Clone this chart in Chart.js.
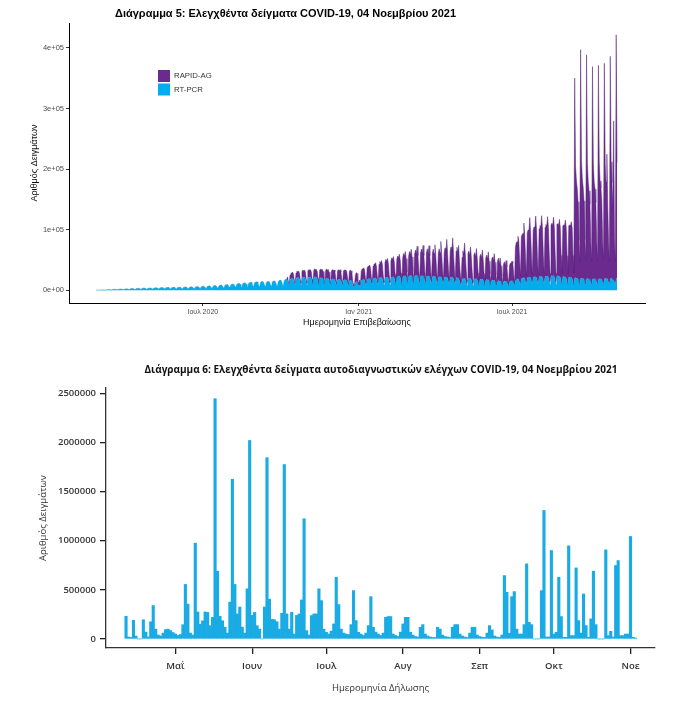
<!DOCTYPE html>
<html lang="el">
<head>
<meta charset="utf-8">
<title>Ελεγχθέντα δείγματα COVID-19</title>
<script src="https://cdn.jsdelivr.net/npm/chart.js@4.4.1/dist/chart.umd.min.js"></script>
<style>
  html, body { margin: 0; padding: 0; background: #fff; }
  #wrap { position: relative; width: 693px; height: 714px; }
  .box { position: absolute; left: 0; width: 693px; }
  #box1 { top: 0; height: 340px; }
  #box2 { top: 340px; height: 374px; }
</style>
</head>
<body>
<div id="wrap">
  <div class="box" id="box1"><canvas id="chart1"></canvas></div>
  <div class="box" id="box2"><canvas id="chart2"></canvas></div>
</div>
<script>
// ---- Διάγραμμα 5: daily values (thousands), one row per week, first day 2020-02-26
const chart1Start = '2020-02-26';
const chart1TickDates = ['2020-07-01', '2021-01-01', '2021-07-01'];
const chart1TickLabels = ['Ιουλ 2020', 'Ιαν 2021', 'Ιουλ 2021'];
const chart1YTicks = [0, 100000, 200000, 300000, 400000];

const rtpcrK = [
  0.2,0.3,0.3,0.2,0.1,0.4,0.5,
  0.5,0.6,0.7,0.5,0.3,0.8,0.9,
  1.0,1.1,1.2,0.8,0.5,1.2,1.4,
  1.5,1.6,1.5,1.0,0.7,1.5,1.7,
  1.8,1.9,2.0,1.4,1.0,1.8,2.1,
  2.2,2.4,2.3,1.6,1.2,2.2,2.6,
  2.8,2.9,2.7,1.9,1.3,2.5,3.0,
  3.1,3.3,3.0,2.0,1.5,2.8,3.4,
  3.5,3.6,3.2,2.2,1.6,3.0,3.6,
  3.4,3.8,3.5,2.4,1.7,3.2,3.9,
  4.0,4.2,3.8,2.6,1.8,3.5,4.3,
  4.4,4.6,4.0,2.8,2.0,3.8,4.5,
  4.6,4.8,4.2,2.9,2.0,4.0,4.7,
  4.8,5.0,4.4,3.0,2.1,4.2,4.9,
  5.0,5.2,4.6,3.1,2.2,4.4,5.1,
  5.2,5.4,4.8,3.2,2.3,4.6,5.4,
  5.5,5.8,5.0,3.4,2.4,5.0,5.8,
  6.0,6.2,5.4,3.6,2.6,5.4,6.3,
  6.5,6.8,5.8,3.9,2.8,5.8,6.8,
  7.0,7.3,6.2,4.2,3.0,6.3,7.5,
  7.8,8.0,6.8,4.6,3.2,7.0,8.2,
  8.5,8.8,7.5,5.0,3.5,7.8,9.0,
  9.2,9.6,8.2,5.5,3.8,8.6,9.8,
  10.0,10.5,9.0,6.0,4.2,9.5,10.8,
  11.0,11.5,9.8,6.5,4.6,10.3,11.8,
  12.0,12.5,10.5,7.0,5.0,11.2,12.6,
  12.8,13.4,11.2,7.5,5.2,12.0,13.5,
  13.6,14.0,11.8,7.8,5.5,12.5,14.2,
  14.0,14.4,12.0,8.0,5.6,12.8,14.5,
  14.2,14.8,12.4,8.2,5.8,13.2,15.0,
  15.0,15.5,13.0,8.6,6.0,14.0,16.0,
  16.5,17.0,14.5,9.5,6.5,15.5,17.5,
  18.0,18.5,16.0,10.5,7.2,17.0,19.0,
  19.5,20.0,17.5,11.5,8.0,18.5,20.5,
  20.5,21.0,18.5,12.0,8.5,19.5,21.5,
  21.0,21.5,19.0,12.5,8.8,20.0,22.0,
  21.5,22.0,19.5,12.8,9.0,20.5,22.5,
  21.0,21.5,19.0,12.5,8.8,19.5,21.0,
  20.0,20.5,18.0,12.0,8.5,18.5,20.0,
  19.0,19.5,17.0,11.5,8.0,17.5,19.0,
  18.0,18.5,16.5,11.0,7.8,16.5,18.0,
  17.5,18.0,16.0,10.5,7.5,16.0,17.5,
  17.0,17.5,15.5,10.0,7.0,15.0,16.5,
  16.0,15.0,8.0,6.0,5.0,12.0,14.0,
  14.0,9.0,7.0,9.0,6.0,15.0,17.0,
  17.5,18.0,16.0,10.5,7.5,17.0,18.5,
  19.0,19.5,17.0,11.0,8.0,18.0,19.5,
  20.0,20.5,18.0,11.5,8.2,19.0,20.5,
  20.5,21.0,18.5,12.0,8.5,19.5,21.0,
  21.0,21.5,19.0,12.5,8.8,20.0,21.5,
  22.0,22.5,20.0,13.0,9.0,21.0,22.5,
  23.0,23.5,21.0,13.5,9.5,22.0,23.5,
  23.5,24.0,21.5,14.0,9.8,22.5,24.0,
  24.0,24.5,22.0,14.0,9.8,23.0,24.5,
  24.0,24.5,22.0,14.0,9.8,23.0,24.0,
  23.5,24.0,21.5,13.5,9.5,22.5,23.5,
  23.0,23.5,21.0,13.5,9.5,22.0,23.0,
  22.5,23.0,20.5,13.0,9.0,21.5,22.5,
  22.0,22.5,20.0,13.0,9.0,21.0,22.0,
  21.5,22.0,19.5,12.5,8.8,20.5,21.5,
  21.0,21.5,19.0,12.0,8.5,20.0,21.0,
  20.0,19.0,15.0,10.0,7.0,16.0,19.0,
  19.5,20.0,17.5,11.5,8.0,18.5,19.5,
  19.0,19.5,17.0,11.0,7.8,18.0,19.0,
  18.5,19.0,16.5,10.5,7.5,17.5,18.5,
  18.0,18.5,16.0,10.5,7.2,17.0,18.0,
  17.0,17.5,15.0,10.0,7.0,16.0,17.0,
  16.0,16.5,14.0,9.5,6.5,15.0,16.0,
  15.0,15.5,13.5,9.0,6.2,14.0,15.0,
  14.5,15.0,13.0,8.5,6.0,13.5,14.5,
  15.0,16.0,14.5,9.5,6.5,15.5,17.0,
  18.0,19.0,17.0,11.5,8.0,18.5,20.0,
  20.0,21.0,19.0,12.5,8.5,20.0,21.5,
  21.0,22.0,20.0,13.0,9.0,21.0,22.5,
  21.5,22.5,20.5,13.5,9.2,21.5,23.0,
  22.0,23.0,21.0,13.5,9.5,22.0,23.5,
  22.5,23.5,21.0,14.0,9.5,23.0,24.5,
  23.0,24.5,21.5,14.0,9.8,23.5,24.0,
  22.5,23.0,21.0,13.5,9.5,22.0,23.0,
  21.5,22.0,20.0,13.0,9.0,21.0,22.0,
  20.5,21.0,19.0,12.5,8.5,20.0,21.0,
  19.5,20.0,18.0,12.0,8.2,19.0,20.0,
  19.0,19.5,17.5,11.5,8.0,18.5,19.5,
  18.5,19.0,17.0,11.0,7.8,18.0,19.0,
  18.5,19.0,17.0,11.0,7.8,18.0,19.0,
  18.5,19.0,17.0,11.0,7.8,18.5,19.5,
  19.0,19.5,17.5,11.5,8.0,19.0,20.0,
  19.5,15.0,17.5,11.5,8.0,19.5,20.5
];

const rapidK = [
  0,0,0,0,0,0,0,  0,0,0,0,0,0,0,  0,0,0,0,0,0,0,  0,0,0,0,0,0,0,
  0,0,0,0,0,0,0,  0,0,0,0,0,0,0,  0,0,0,0,0,0,0,  0,0,0,0,0,0,0,
  0,0,0,0,0,0,0,  0,0,0,0,0,0,0,  0,0,0,0,0,0,0,  0,0,0,0,0,0,0,
  0,0,0,0,0,0,0,  0,0,0,0,0,0,0,  0,0,0,0,0,0,0,  0,0,0,0,0,0,0,
  0,0,0,0,0,0,0,  0,0,0,0,0,0,0,  0,0,0,0,0,0,0,  0,0,0,0,0,0,0,
  0,0,0,0,0,0,0,  0,0,0,0,0,0,0,  0,0,0,0,0,0,0,  0,0,0,0,0,0,0,
  0,0,0,0,0,0,0,  0,0,0,0,0,0,0,  0,0,0,0,0,0,0,  0,0,0,0,0,0,0,
  0,0,0,0,0,0,0,  0,0,0,0,0,0,0,  0,0,0,0,0,0,0,  0,0,0,0,0,0,0,
  0,0,6,4,2,8,9,
  9,10,9,5,3,10,11,
  10,11,10,6,3,11,12,
  11,12,11,6,3,12,12,
  12,12,11,6,3,12,13,
  13,13,12,7,3,14,14,
  14,14,13,7,3,14,15,
  14,15,13,7,3,15,15,
  15,15,14,7,3,15,16,
  15,16,14,8,3,16,16,
  16,16,14,8,3,16,17,
  16,14,6,4,3,12,15,
  14,6,5,8,3,16,18,
  18,19,17,9,4,20,21,
  21,22,19,10,4,22,24,
  23,25,21,11,5,24,27,
  25,28,23,12,5,26,30,
  27,31,25,13,5,28,32,
  29,33,27,14,6,30,34,
  31,36,29,15,6,32,37,
  33,40,31,16,6,34,40,
  35,43,33,17,7,36,42,
  36,48,35,18,7,38,44,
  37,50,36,18,7,39,45,
  37,50,36,18,7,39,45,
  38,52,37,19,7,40,46,
  40,58,39,20,8,42,48,
  42,62,40,20,8,44,50,
  43,65,41,21,8,45,50,
  42,55,30,16,7,38,46,
  40,58,39,20,8,42,45,
  38,52,37,19,7,40,43,
  36,50,35,18,7,38,41,
  35,48,34,17,7,36,40,
  34,46,33,17,6,35,38,
  33,44,32,16,6,34,37,
  28,38,27,14,5,29,32,
  26,34,25,13,5,27,30,
  30,32,30,16,6,55,62,
  62,70,65,38,15,70,72,
  74,90,72,40,16,75,78,
  78,98,75,42,17,78,82,
  80,100,78,42,17,80,84,
  82,100,80,44,18,82,85,
  84,98,82,44,18,84,86,
  84,96,82,44,18,85,86,
  84,94,82,44,18,84,85,
  85,94,83,44,18,85,86,
  86,92,84,45,20,330,185,
  162,148,128,70,40,378,195,
  165,150,130,72,42,370,190,
  160,145,125,70,40,351,190,
  160,148,128,70,40,353,192,
  162,150,130,72,42,356,190,
  160,205,125,70,40,367,192,
  158,120,262,75,40,402,190
];

// ---- Διάγραμμα 6: daily self-tests (thousands), first day 2021-04-11
const chart2Start = '2021-04-11';
const chart2TickDates = ['2021-05-01', '2021-06-01', '2021-07-01', '2021-08-01', '2021-09-01', '2021-10-01', '2021-11-01'];
const chart2TickLabels = ['Μαΐ', 'Ιουν', 'Ιουλ', 'Αυγ', 'Σεπ', 'Οκτ', 'Νοε'];
const chart2YTicks = [0, 500000, 1000000, 1500000, 2000000, 2500000];

const selfTestsK = [
  230, 20, 15, 190, 30, 0, 0,
  195, 70, 20, 175, 340, 100, 40,
  30, 60, 95, 100, 85, 65, 50,
  35, 45, 145, 555, 355, 60, 40,
  975, 275, 150, 185, 275, 270, 135,
  220, 2445, 690, 230, 185, 120, 60,
  375, 1625, 555, 255, 325, 120, 60,
  510, 2020, 240, 270, 135, 100, 0,
  325, 1845, 405, 200, 195, 175, 100,
  262, 1775, 255, 100, 272, 50, 240,
  255, 397, 1223, 85, 40, 238, 255,
  255, 510, 390, 100, 68, 50, 80,
  153, 628, 350, 100, 60, 50, 45,
  146, 492, 187, 68, 50, 35, 60,
  136, 431, 119, 70, 50, 35, 60,
  220, 228, 228, 50, 35, 25, 70,
  153, 220, 220, 68, 40, 25, 20,
  119, 146, 50, 30, 20, 15, 15,
  119, 100, 40, 25, 20, 15, 119,
  146, 146, 50, 30, 20, 15, 60,
  119, 119, 40, 25, 18, 15, 60,
  136, 92, 30, 20, 15, 40, 645,
  475, 58, 431, 482, 100, 50, 50,
  146, 764, 170, 146, 0, 0, 0,
  492, 1308, 20, 20, 900, 50, 68,
  628, 228, 17, 17, 948, 34, 34,
  723, 187, 60, 458, 136, 17, 204,
  690, 146, 0, 0, 0, 907, 34,
  78, 20, 747, 798, 34, 34, 50,
  50, 1043, 17, 10
];

// days between two ISO dates
function daysBetween(from, to) {
    return Math.round((Date.parse(to) - Date.parse(from)) / 86400000);
}

// ggplot-like 4e+05 labels
function sciLabel(v) {
    if (v === 0) return '0e+00';
    const e = Math.floor(Math.log10(Math.abs(v)));
    return (v / Math.pow(10, e)) + 'e+' + String(e).padStart(2, '0');
}

function textPlugin(id, items) {
    return {
        id: id,
        afterDraw(chart) {
            const ctx = chart.ctx;
            ctx.save();
            items.forEach(t => {
                ctx.font = t.font;
                ctx.fillStyle = t.color;
                ctx.textAlign = t.align;
                ctx.textBaseline = 'middle';
                ctx.fillText(t.text, t.x, t.y);
            });
            ctx.restore();
        }
    };
}

// legend with filled squares, last dataset on top
function squareLegend(left, top, box, rowH, font) {
    return {
        id: 'squareLegend',
        afterDraw(chart) {
            const ctx = chart.ctx;
            const sets = chart.data.datasets.slice().reverse();
            ctx.save();
            sets.forEach((ds, i) => {
                const y = top + i * rowH;
                ctx.fillStyle = ds.backgroundColor;
                ctx.fillRect(left, y, box, box);
                ctx.fillStyle = '#333';
                ctx.font = font;
                ctx.textAlign = 'left';
                ctx.textBaseline = 'middle';
                ctx.fillText(ds.label, left + box + 4, y + box / 2);
            });
            ctx.restore();
        }
    };
}

/* Διάγραμμα 5 */
const font1 = 'Liberation Sans';
const tickDays1 = chart1TickDates.map(d => daysBetween(chart1Start, d));

new Chart(document.getElementById('chart1'), {
    type: 'line',
    data: {
        datasets: [{
            label: 'RT-PCR',
            data: rtpcrK.map((v, i) => ({x: i, y: v * 1000})),
            backgroundColor: '#00AEEF',
            borderColor: '#169BCC',
            borderWidth: 0.5,
            fill: 'origin',
            pointRadius: 0,
            tension: 0
        }, {
            label: 'RAPID-AG',
            data: rapidK.map((v, i) => ({x: i, y: v * 1000})),
            backgroundColor: '#6A2A8E',
            borderColor: '#55207A',
            borderWidth: 0.5,
            fill: '-1',
            pointRadius: 0,
            tension: 0,
            segment: {
                borderColor: ctx => (rapidK[ctx.p0DataIndex] === 0 && rapidK[ctx.p1DataIndex] === 0) ? 'rgba(0,0,0,0)' : undefined
            }
        }]
    },
    options: {
        responsive: true,
        maintainAspectRatio: false,
        animation: false,
        layout: {padding: {top: 23, right: 48, left: 0, bottom: 0}},
        plugins: {legend: {display: false}, tooltip: {enabled: false}},
        scales: {
            x: {
                type: 'linear',
                min: -32,
                max: 648,
                afterBuildTicks: s => { s.ticks = tickDays1.map(v => ({value: v})); },
                afterFit: s => { s.height = 37; },
                ticks: {
                    autoSkip: false, maxRotation: 0, padding: 2,
                    color: '#4D4D4D', font: {family: font1, size: 7},
                    callback: (v, i) => chart1TickLabels[i]
                },
                grid: {display: true, offset: false, drawOnChartArea: false, drawTicks: true, tickLength: 3, color: '#333'},
                border: {display: true, color: '#000', width: 1},
                title: {display: true, text: 'Ημερομηνία Επιβεβαίωσης', color: '#111',
                    font: {family: font1, size: 9}, padding: {top: 0, bottom: 11.6}}
            },
            y: {
                stacked: true,
                min: -21000,
                max: 441000,
                afterBuildTicks: s => { s.ticks = chart1YTicks.map(v => ({value: v})); },
                afterFit: s => { s.width = 69; },
                ticks: {
                    padding: 2, color: '#4D4D4D', font: {family: font1, size: 7.5},
                    callback: v => sciLabel(v)
                },
                grid: {display: true, drawOnChartArea: false, drawTicks: true, tickLength: 3, color: '#333'},
                border: {display: true, color: '#000', width: 1},
                title: {display: true, text: 'Αριθμός Δειγμάτων', color: '#111',
                    font: {family: font1, size: 9}, padding: {top: 29.6, bottom: 0}}
            }
        }
    },
    plugins: [
        textPlugin('title5', [{text: 'Διάγραμμα 5: Ελεγχθέντα δείγματα COVID-19, 04 Νοεμβρίου 2021',
            x: 115, y: 14, align: 'left', color: '#000', font: 'bold 11px "' + font1 + '"'}]),
        squareLegend(158, 70, 12, 13.5, '7.8px "' + font1 + '"')
    ]
});

/* Διάγραμμα 6 */
const font2 = 'Open Sans';
const tickDays2 = chart2TickDates.map(d => daysBetween(chart2Start, d));

new Chart(document.getElementById('chart2'), {
    type: 'bar',
    data: {
        datasets: [{
            label: 'Αυτοδιαγνωστικοί έλεγχοι',
            data: selfTestsK.map((v, i) => ({x: i, y: v * 1000})),
            backgroundColor: '#1AABE4',
            borderWidth: 0,
            barPercentage: 1,
            categoryPercentage: 1
        }]
    },
    options: {
        responsive: true,
        maintainAspectRatio: false,
        animation: false,
        layout: {padding: {top: 48, right: 38, left: 0, bottom: 0}},
        plugins: {legend: {display: false}, tooltip: {enabled: false}},
        scales: {
            x: {
                type: 'linear',
                offset: false,
                min: -8.1,
                max: 213.9,
                afterBuildTicks: s => { s.ticks = tickDays2.map(v => ({value: v})); },
                afterFit: s => { s.height = 66; },
                ticks: {
                    autoSkip: false, maxRotation: 0, padding: 7,
                    color: '#333', font: {family: font2, size: 9.5, weight: '600'},
                    callback: (v, i) => chart2TickLabels[i]
                },
                grid: {display: true, offset: false, drawOnChartArea: false, drawTicks: true, tickLength: 6, color: '#222', lineWidth: 1.3},
                border: {display: true, color: '#333', width: 1.3},
                title: {display: true, text: 'Ημερομηνία Δήλωσης', color: '#333',
                    font: {family: font2, size: 9.5}, padding: {top: 0, bottom: 20.3}}
            },
            y: {
                min: -92000,
                max: 2554000,
                afterBuildTicks: s => { s.ticks = chart2YTicks.map(v => ({value: v})); },
                afterFit: s => { s.width = 106; },
                ticks: {
                    padding: 4, color: '#333', font: {family: font2, size: 9.5, weight: '600'},
                    callback: v => String(v)
                },
                grid: {display: true, drawOnChartArea: false, drawTicks: true, tickLength: 6, color: '#222', lineWidth: 1.3},
                border: {display: true, color: '#333', width: 1.3},
                title: {display: true, text: 'Αριθμός Δειγμάτων', color: '#333',
                    font: {family: font2, size: 9.5}, padding: {top: 37.3, bottom: 0}}
            }
        }
    },
    plugins: [
        textPlugin('title6', [{text: 'Διάγραμμα 6: Ελεγχθέντα δείγματα αυτοδιαγνωστικών ελέγχων COVID-19, 04 Νοεμβρίου 2021',
            x: 381, y: 30, align: 'center', color: '#111', font: 'bold 10px "' + font2 + '"'}])
    ]
});
</script>
</body>
</html>
